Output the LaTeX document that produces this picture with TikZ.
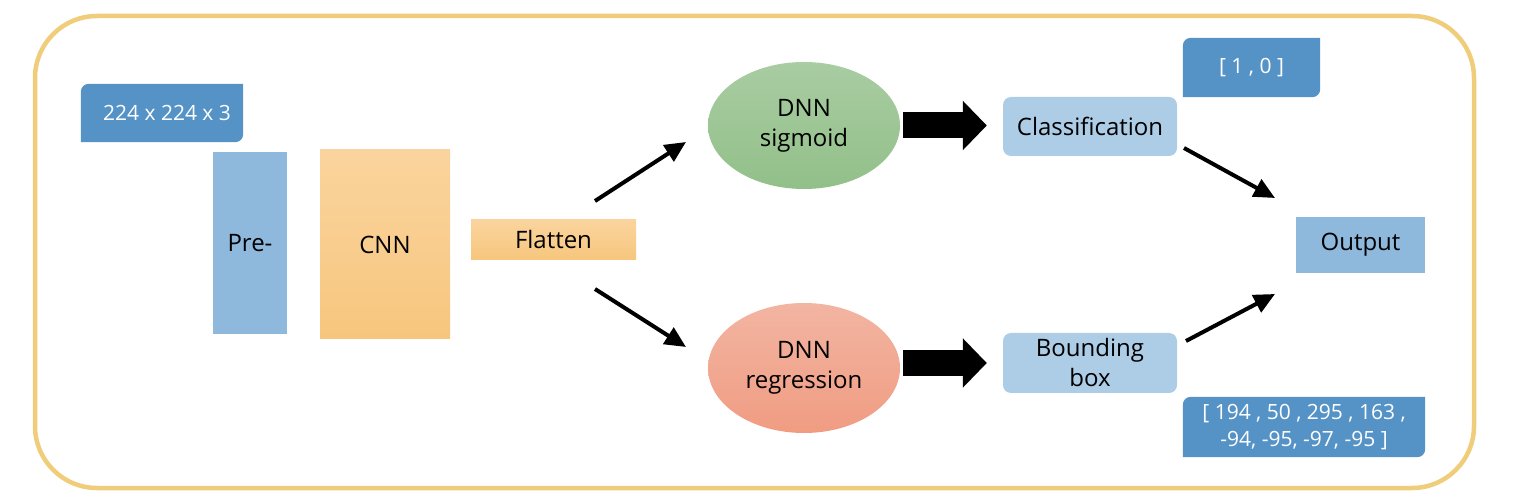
\documentclass[tikz,border=0pt]{standalone}
\usepackage{fontspec}
\setmainfont{Open Sans}
\usetikzlibrary{arrows.meta,shapes.geometric,calc}
\definecolor{frame}{HTML}{EFCD7B}
\definecolor{dblue}{HTML}{5593C7}
\definecolor{mblue}{HTML}{8EB8DC}
\definecolor{lblue}{HTML}{ADCDE6}
\definecolor{orgtop}{HTML}{FAD49E}
\definecolor{orgbot}{HTML}{F7C67D}
\definecolor{grtop}{HTML}{A9CCA2}
\definecolor{grbot}{HTML}{92C089}
\definecolor{rdtop}{HTML}{F2B5A2}
\definecolor{rdbot}{HTML}{F09C82}
\tikzset{
  base/.style={inner sep=0pt, font=\fontsize{24}{30}\selectfont, align=center, text=black},
  box/.style={base, rectangle},
  lbl/.style={inner sep=0pt, font=\fontsize{21}{27}\selectfont, align=center, text=white},
  ell/.style={base, ellipse},
  thin/.style={line width=4pt, -{Triangle[length=21pt,width=19pt]}},
  block/.style={line width=26pt, -{Triangle[length=24pt,width=48pt]}}
}
\begin{document}
\begin{tikzpicture}[x=1pt,y=-1pt]
\useasboundingbox (0,0) rectangle (1518,502);
% frame
\draw[frame, line width=4.5pt, rounded corners=62pt] (35,16) rectangle (1474,488);
% nodes
\node[box, fill=mblue, minimum width=74pt, minimum height=182pt] (pre) at (250,243) {Pre-};
\node[box, top color=orgtop, bottom color=orgbot, minimum width=130pt, minimum height=189pt] (cnn) at (385,244.5) {CNN};
\node[box, top color=orgtop, bottom color=orgbot, minimum width=165pt, minimum height=40pt] (flat) at (553.5,240) {Flatten};
\node[ell, top color=grtop, bottom color=grbot, minimum width=192pt, minimum height=127pt] (sig) at (804,125.5) {DNN\\sigmoid};
\node[ell, top color=rdtop, bottom color=rdbot, minimum width=192pt, minimum height=130pt] (reg) at (804,368) {DNN\\regression};
\node[box, fill=lblue, rounded corners=8pt, minimum width=174pt, minimum height=59pt] (cls) at (1090,126.5) {Classification};
\node[box, fill=lblue, rounded corners=8pt, minimum width=174pt, minimum height=60pt] (bbox) at (1090,363) {Bounding\\box};
\node[box, fill=mblue, minimum width=129pt, minimum height=56pt] (out) at (1360.5,245) {Output};
% label boxes
\node[lbl, minimum width=162pt, minimum height=58pt] (l224) at (162,113) {};
\node[lbl, minimum width=137pt, minimum height=59pt] (l10) at (1251.5,67.5) {};
\node[lbl, minimum width=242pt, minimum height=60pt] (lbb) at (1304,427) {};
\foreach \n in {l224,l10,lbb}{
  \fill[dblue] (\n.west) [rounded corners=8pt] -- (\n.north west) -- (\n.north) [sharp corners] -- (\n.north east) -- (\n.east) [rounded corners=8pt] -- (\n.south east) -- (\n.south) [sharp corners] -- (\n.south west) -- cycle;
}
\node[lbl] (t224) at ($(l224)+(5,0)$) {224 x 224 x 3};
\node[lbl] (t10) at (l10) {[ 1 , 0 ]};
\node[lbl] (tbb) at (lbb) {[ 194 , 50 , 295 , 163 ,\\-94, -95, -97, -95 ]};
% thin arrows
\coordinate (fa) at (595,201);
\coordinate (fb) at (686,142);
\coordinate (fc) at (595,289);
\coordinate (fd) at (686,347);
\coordinate (ca) at (1184,148);
\coordinate (cb) at (1275,198);
\coordinate (ba) at (1186,341);
\coordinate (bb) at (1275,294);
\draw[thin] (fa) -- (fb);
\draw[thin] (fc) -- (fd);
\draw[thin] (ca) -- (cb);
\draw[thin] (ba) -- (bb);
% block arrows
\draw[block, shorten <=3pt, shorten >=16pt] (sig.east) -- (sig.east -| cls.west);
\draw[block, shorten <=3pt, shorten >=16pt] (reg.east |- bbox.center) -- (bbox.west);
\end{tikzpicture}
\end{document}
